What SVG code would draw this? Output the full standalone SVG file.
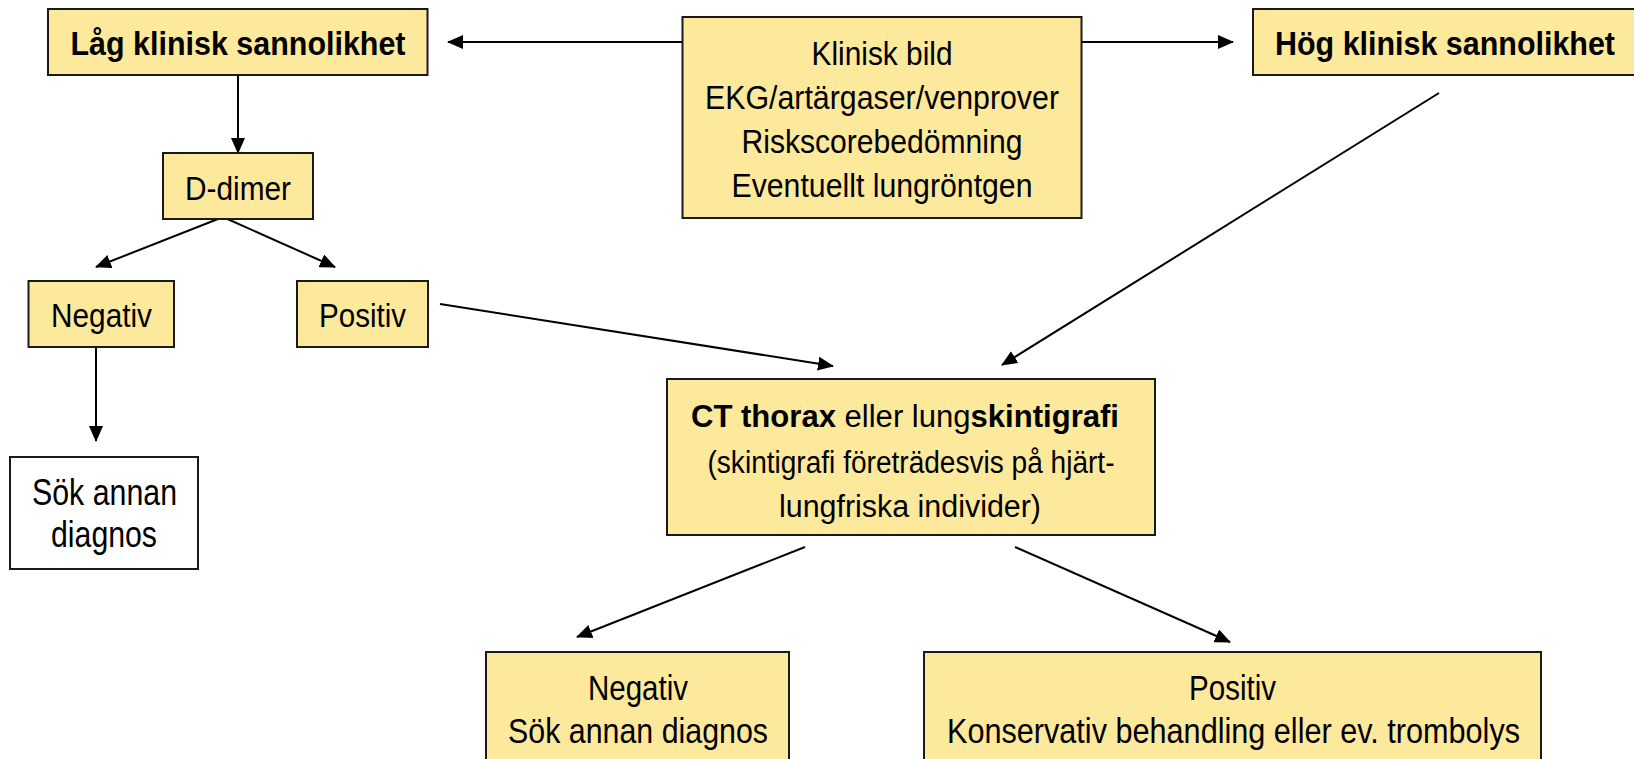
<svg xmlns="http://www.w3.org/2000/svg" width="1634" height="759" viewBox="0 0 1634 759">
<style>
.box{fill:#FCE99C;stroke:#1a1a1a;stroke-width:2}
.wbox{fill:#ffffff;stroke:#1a1a1a;stroke-width:2}
text{font-family:"Liberation Sans Narrow","Arial Narrow","Liberation Sans",Arial,sans-serif;fill:#000;text-anchor:middle}
.b{font-weight:bold}
.conn line{stroke:#000;stroke-width:2;marker-end:url(#arr)}
</style>
<defs>
<marker id="arr" markerUnits="userSpaceOnUse" markerWidth="16" markerHeight="14" refX="15" refY="7" orient="auto" viewBox="0 0 16 14">
<path d="M0,0 L16,7 L0,14 z" fill="#000"/>
</marker>
</defs>
<rect width="1634" height="759" fill="#ffffff"/>
<g class="conn" id="connectors">
<line x1="682" y1="42" x2="448" y2="42"/>
<line x1="1082" y1="42" x2="1233" y2="42"/>
<line x1="238" y1="75" x2="238" y2="153"/>
<line x1="223" y1="217" x2="96" y2="267"/>
<line x1="223" y1="217" x2="335" y2="267"/>
<line x1="96" y1="347" x2="96" y2="441"/>
<line x1="440" y1="304" x2="833" y2="366"/>
<line x1="1439" y1="93" x2="1002" y2="365"/>
<line x1="805" y1="547" x2="577" y2="637"/>
<line x1="1015" y1="547" x2="1230" y2="642"/>
</g>
<g id="lag">
<rect class="box" x="48" y="9" width="379.5" height="66"/>
<text class="b" x="238" y="55" font-size="34" textLength="335" lengthAdjust="spacingAndGlyphs">Låg klinisk sannolikhet</text>
</g>
<g id="klinisk">
<rect class="box" x="682.5" y="17" width="399" height="201"/>
<text x="882" y="65" font-size="33" textLength="141" lengthAdjust="spacingAndGlyphs">Klinisk bild</text>
<text x="882" y="109" font-size="33" textLength="354" lengthAdjust="spacingAndGlyphs">EKG/artärgaser/venprover</text>
<text x="882" y="153" font-size="33" textLength="281" lengthAdjust="spacingAndGlyphs">Riskscorebedömning</text>
<text x="882" y="197" font-size="33" textLength="301" lengthAdjust="spacingAndGlyphs">Eventuellt lungröntgen</text>
</g>
<g id="hog">
<rect class="box" x="1253" y="9" width="400" height="66"/>
<text class="b" x="1445" y="55" font-size="34" textLength="340" lengthAdjust="spacingAndGlyphs">Hög klinisk sannolikhet</text>
</g>
<g id="ddimer">
<rect class="box" x="163" y="153" width="150" height="66"/>
<text x="238" y="200" font-size="33" textLength="106" lengthAdjust="spacingAndGlyphs">D-dimer</text>
</g>
<g id="negativ1">
<rect class="box" x="28.5" y="281" width="145.5" height="66"/>
<text x="101.5" y="327" font-size="34" textLength="101" lengthAdjust="spacingAndGlyphs">Negativ</text>
</g>
<g id="positiv1">
<rect class="box" x="297" y="281" width="131" height="66"/>
<text x="362.5" y="327" font-size="34" textLength="87" lengthAdjust="spacingAndGlyphs">Positiv</text>
</g>
<g id="sok">
<rect class="wbox" x="10" y="457" width="188" height="112"/>
<text x="104.5" y="505" font-size="36" textLength="145" lengthAdjust="spacingAndGlyphs">Sök annan</text>
<text x="104" y="547" font-size="36" textLength="106" lengthAdjust="spacingAndGlyphs">diagnos</text>
</g>
<g id="ct">
<rect class="box" x="667" y="379" width="488" height="156"/>
<text x="905" y="427" font-size="31" textLength="428" lengthAdjust="spacingAndGlyphs"><tspan class="b">CT thorax</tspan> eller lung<tspan class="b">skintigrafi</tspan></text>
<text x="911" y="473" font-size="31" textLength="407" lengthAdjust="spacingAndGlyphs">(skintigrafi företrädesvis på hjärt-</text>
<text x="910" y="517" font-size="31" textLength="262" lengthAdjust="spacingAndGlyphs">lungfriska individer)</text>
</g>
<g id="negativ2">
<rect class="box" x="486" y="652" width="303" height="120"/>
<text x="638" y="700" font-size="35" textLength="100" lengthAdjust="spacingAndGlyphs">Negativ</text>
<text x="638" y="743" font-size="35" textLength="260" lengthAdjust="spacingAndGlyphs">Sök annan diagnos</text>
</g>
<g id="positiv2">
<rect class="box" x="924" y="652" width="617" height="120"/>
<text x="1232.5" y="700" font-size="35" textLength="87" lengthAdjust="spacingAndGlyphs">Positiv</text>
<text x="1233.5" y="743" font-size="35" textLength="573" lengthAdjust="spacingAndGlyphs">Konservativ behandling eller ev. trombolys</text>
</g>
</svg>
